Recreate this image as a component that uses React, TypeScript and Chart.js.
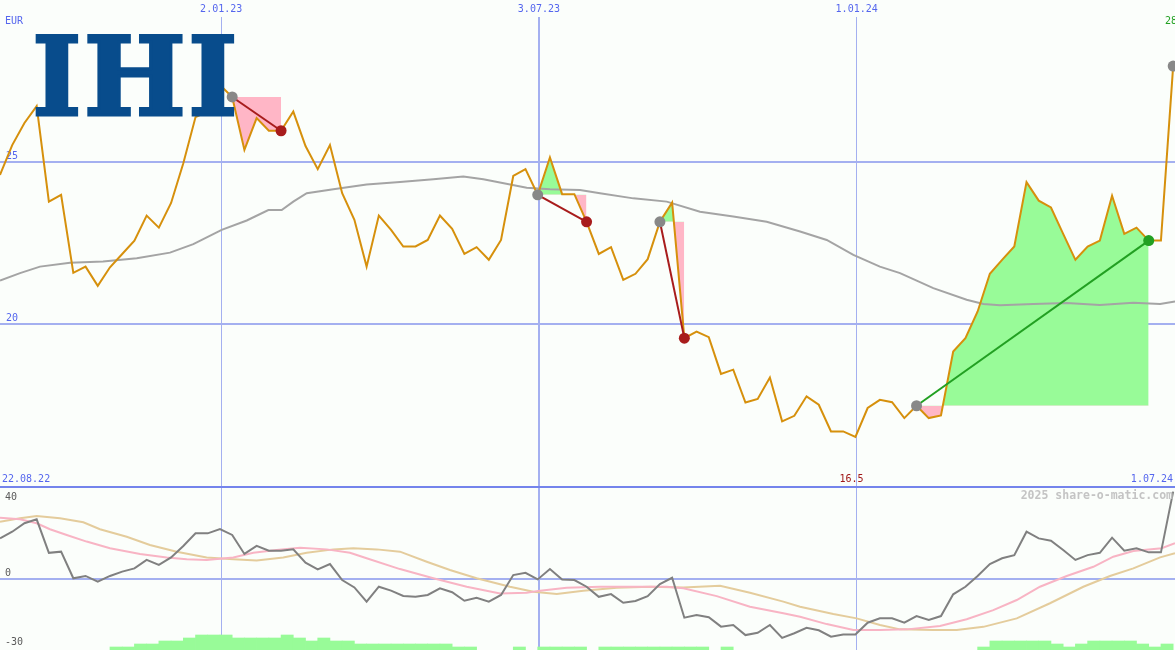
import React, { useEffect, useRef } from "react";
import { Chart, registerables } from "chart.js";
Chart.register(...registerables);

// ---------- data ----------
const dateTicks = [18.1, 44.1, 70.1];
const dateTickLabels = ["2.01.23", "3.07.23", "1.01.24"];
const rangeLabels = ["22.08.22", "1.07.24"];
const priceTicks = [20, 25];
const currencyLabel = "EUR";
const minPriceLabel = "16.5";
const lastPriceLabel = "28";
const osciTicks = [40, 0, -30];
const watermark = "2025 share-o-matic.com";
const logoText = "IHI";

// weekly closing prices (index 0 = 22.08.22)
const prices = [
  24.6, 25.52, 26.2, 26.72, 23.78, 23.99, 21.59, 21.78, 21.19, 21.76,
  22.17, 22.58, 23.35, 22.98, 23.74, 24.96, 26.38, 26.55, 27.37, 27.0,
  25.37, 26.35, 25.96, 25.96, 26.55, 25.49, 24.78, 25.52, 24.04, 23.22,
  21.78, 23.35, 22.91, 22.4, 22.4, 22.6, 23.35, 22.94, 22.17, 22.38,
  21.99, 22.6, 24.57, 24.78, 23.99, 25.14, 24.01, 24.01, 23.16, 22.17,
  22.38, 21.37, 21.56, 22.01, 23.16, 23.75, 19.58, 19.78, 19.61, 18.48,
  18.61, 17.6, 17.71, 18.37, 17.02, 17.19, 17.79, 17.53, 16.71, 16.71,
  16.54, 17.43, 17.68, 17.61, 17.12, 17.5, 17.12, 17.2, 19.17, 19.58,
  20.4, 21.56, 21.99, 22.4, 24.38, 23.81, 23.6, 22.79, 21.99, 22.4,
  22.58, 23.96, 22.79, 22.98, 22.58, 22.58, 27.95,
];

// long moving average (gray)
const maX = [0, 1.64, 3.27, 5.73, 8.43, 11.19, 13.91, 15.82, 18.14, 20.19, 21.96, 23.05, 24.0, 25.1, 27.28, 30.0, 32.73, 35.46, 37.91, 39.55, 43.1, 45.0, 47.46, 49.1, 51.83, 54.56, 57.28, 60.0, 62.74, 65.47, 67.65, 69.83, 72.0, 73.65, 76.37, 79.1, 80.47, 81.83, 84.56, 87.29, 90.0, 92.74, 94.93, 96.15];
const maY = [21.35, 21.58, 21.78, 21.9, 21.94, 22.04, 22.21, 22.47, 22.91, 23.2, 23.52, 23.52, 23.78, 24.04, 24.16, 24.31, 24.38, 24.47, 24.55, 24.47, 24.21, 24.16, 24.14, 24.04, 23.88, 23.78, 23.47, 23.32, 23.16, 22.86, 22.6, 22.14, 21.78, 21.58, 21.12, 20.76, 20.63, 20.59, 20.63, 20.66, 20.6, 20.67, 20.63, 20.71];

// trades (week indices)
const tradeEntries = [19, 44, 54, 75];
const tradeExits = [23, 48, 56, 94];
const openEntries = [96];

// oscillator (lower panel)
const osci = [
  17.6, 20.5, 24.2, 25.9, 11.3, 11.8, 0.2, 1.2, -1.3, 1.2,
  3.1, 4.5, 8.2, 6.0, 9.3, 14.3, 19.8, 19.8, 21.7, 19.1,
  10.8, 14.3, 12.2, 12.2, 12.8, 7.0, 4.1, 6.4, -0.6, -3.8,
  -10.0, -3.5, -5.2, -7.5, -7.9, -7.1, -4.2, -5.9, -9.6, -8.3,
  -10.0, -7.1, 1.6, 2.6, -0.3, 4.2, -0.3, -0.6, -3.5, -7.9,
  -6.7, -10.5, -9.7, -7.6, -2.3, 0.4, -17.0, -15.8, -16.8, -20.9,
  -20.2, -24.6, -23.6, -20.2, -25.8, -23.8, -21.4, -22.5, -25.3, -24.3,
  -24.3, -19.2, -17.3, -17.3, -19.2, -16.3, -18.0, -16.3, -6.8, -3.5,
  1.2, 6.4, 8.9, 10.3, 20.5, 17.6, 16.6, 12.5, 8.2, 10.3,
  11.3, 17.9, 12.2, 13.3, 11.5, 11.5, 38.0,
];
const pinkX = [0, 1.64, 3.0, 4.09, 5.46, 7.09, 9.0, 11.46, 13.64, 15.28, 16.91, 19.09, 20.73, 22.64, 24.55, 26.73, 28.64, 30.0, 32.73, 35.46, 38.19, 40.92, 43.1, 44.19, 46.37, 49.1, 51.83, 54.56, 55.92, 58.65, 61.37, 64.1, 65.47, 67.65, 69.83, 72.01, 74.2, 76.92, 79.1, 81.28, 83.2, 85.1, 87.29, 89.47, 91.1, 92.74, 95.06, 96.15];
const pinkY = [26.6, 25.9, 24.2, 21.6, 19.1, 16.2, 13.3, 10.8, 9.3, 8.5, 8.2, 9.3, 11.3, 12.5, 13.5, 12.8, 11.3, 8.9, 4.2, 0.2, -3.5, -6.4, -6.1, -5.2, -3.9, -3.5, -3.5, -3.5, -4.2, -7.6, -12.2, -15.1, -16.6, -19.8, -22.4, -22.4, -22.1, -20.6, -17.7, -13.7, -9.3, -3.5, 1.2, 5.2, 9.6, 12.1, 13.3, 15.5];
const tanX = [0, 1.64, 3.0, 4.91, 6.82, 8.18, 10.37, 12.27, 14.46, 16.91, 19.09, 21.0, 23.18, 25.1, 27.28, 28.91, 30.83, 32.73, 34.92, 36.82, 39.0, 41.73, 43.64, 45.56, 47.73, 50.47, 53.19, 55.92, 58.92, 61.37, 64.1, 65.47, 68.19, 70.1, 72.01, 73.65, 76.37, 78.29, 80.47, 83.2, 85.92, 88.65, 90.83, 92.74, 94.93, 96.15];
const tanY = [24.9, 26.4, 27.4, 26.4, 24.6, 21.6, 18.3, 14.7, 11.8, 9.3, 8.5, 7.9, 9.3, 11.3, 12.8, 13.3, 12.8, 11.8, 7.4, 3.8, 0.2, -3.5, -5.7, -6.7, -5.2, -3.9, -3.5, -3.8, -3.1, -6.1, -10.0, -12.2, -15.4, -17.3, -20.2, -22.1, -22.4, -22.4, -21.0, -17.3, -10.7, -3.5, 1.2, 4.5, 9.3, 11.1];
// trend strength bars, one per week interval
const trendLevels = [
  0, 0, 0, 0, 0, 0, 0, 0, 0, 1,
  1, 2, 2, 3, 3, 4, 5, 5, 5, 4,
  4, 4, 4, 5, 4, 3, 4, 3, 3, 2,
  2, 2, 2, 2, 2, 2, 2, 1, 1, 0,
  0, 0, 1, 0, 1, 1, 1, 1, 0, 1,
  1, 1, 1, 1, 1, 1, 1, 1, 0, 1,
  0, 0, 0, 0, 0, 0, 0, 0, 0, 0,
  0, 0, 0, 0, 0, 0, 0, 0, 0, 0,
  1, 3, 3, 3, 3, 3, 2, 1, 2, 3,
  3, 3, 3, 2, 1, 2,
];

// ---------- styles ----------
const X_MAX = 96.15;
const BG = "#fbfefb";
const LABEL_BLUE = "#5566ee";
const GRID_BLUE = "#a4b0f0";
const SEP_BLUE = "#7484ec";
const PRICE_COLOR = "#d6900c";
const MA_COLOR = "#a4a4a4";
const GAIN_FILL = "#98fb98";
const LOSS_FILL = "#ffb6c6";
const LOSS_LINE = "#a81c1c";
const GAIN_LINE = "#22a022";
const ENTRY_DOT = "#888888";
const LOGO_BLUE = "#084c8c";
const MONO = "'DejaVu Sans Mono', monospace";

function drawLogo(ctx: CanvasRenderingContext2D) {
  const boxes = [
    [35, 79],
    [86.7, 182.7],
    [191, 235],
  ];
  const top = 35;
  const bottom = 116.8;
  const sw = 3; // stroke thickening in px
  ctx.save();
  ctx.fillStyle = LOGO_BLUE;
  ctx.strokeStyle = LOGO_BLUE;
  ctx.font = "bold 100px 'DejaVu Serif', serif";
  ctx.textAlign = "left";
  ctx.textBaseline = "alphabetic";
  ctx.lineJoin = "miter";
  logoText.split("").forEach((ch, k) => {
    const m = ctx.measureText(ch);
    const gw = m.actualBoundingBoxRight + m.actualBoundingBoxLeft;
    const gh = m.actualBoundingBoxAscent + m.actualBoundingBoxDescent;
    const [x0, x1] = boxes[k];
    const sx = (x1 - x0 - sw) / gw;
    const sy = (bottom - top - sw) / gh;
    ctx.save();
    ctx.translate(x0 + sw / 2, top + sw / 2);
    ctx.scale(sx, sy);
    ctx.lineWidth = sw / sx;
    ctx.fillText(ch, m.actualBoundingBoxLeft, m.actualBoundingBoxAscent);
    ctx.strokeText(ch, m.actualBoundingBoxLeft, m.actualBoundingBoxAscent);
    ctx.restore();
  });
  ctx.restore();
}

const topDecor = {
  id: "topDecor",
  afterDraw(chart: any) {
    const { ctx } = chart;
    const xs = chart.scales.x;
    ctx.save();
    ctx.font = `10px ${MONO}`;
    ctx.textBaseline = "middle";
    ctx.fillStyle = LABEL_BLUE;
    ctx.textAlign = "left";
    ctx.fillText(currencyLabel, 5, 21);
    ctx.fillText(rangeLabels[0], 2, 479);
    ctx.textAlign = "right";
    ctx.fillText(rangeLabels[1], 1173, 479);
    const minIdx = prices.indexOf(Math.min(...prices));
    ctx.fillStyle = "#a01818";
    ctx.textAlign = "center";
    ctx.fillText(minPriceLabel, xs.getPixelForValue(minIdx) - 4, 479);
    ctx.fillStyle = GAIN_LINE;
    ctx.textAlign = "left";
    ctx.fillText(lastPriceLabel, 1165, 21);
    ctx.restore();
    drawLogo(ctx);
  },
};

const bottomDecor = {
  id: "bottomDecor",
  afterDraw(chart: any) {
    const { ctx } = chart;
    const ys = chart.scales.y;
    ctx.save();
    ctx.strokeStyle = SEP_BLUE;
    ctx.lineWidth = 2;
    ctx.beginPath();
    ctx.moveTo(0, 1);
    ctx.lineTo(chart.width, 1);
    ctx.stroke();
    ctx.font = `10px ${MONO}`;
    ctx.fillStyle = "#5a5a5a";
    ctx.textAlign = "left";
    ctx.textBaseline = "alphabetic";
    osciTicks.forEach((v, k) => {
      const py = ys.getPixelForValue(v);
      ctx.fillText(String(v), 5, k === 0 ? py + 13 : py - 2.5);
    });
    ctx.font = `bold 11.5px ${MONO}`;
    ctx.fillStyle = "#c4c4c4";
    ctx.textAlign = "right";
    ctx.textBaseline = "middle";
    ctx.fillText(watermark, 1173, 10);
    ctx.restore();
  },
};

const zeroPad = (s: any) => {
  s.paddingLeft = 0;
  s.paddingRight = 0;
  s.paddingTop = 0;
  s.paddingBottom = 0;
};

const xGrid = {
  color: GRID_BLUE,
  lineWidth: (c: any) => (c.tick && c.tick.value === dateTicks[1] ? 2 : 1),
  drawTicks: false,
  offset: false,
};

export default function App() {
  const topRef = useRef<HTMLCanvasElement>(null);
  const botRef = useRef<HTMLCanvasElement>(null);

  useEffect(() => {
    const pricePts = prices.map((v, i) => ({ x: i, y: v }));
    const datasets: any[] = [];

    // trade fills
    tradeEntries.forEach((e, k) => {
      const x = tradeExits[k];
      datasets.push({
        type: "line",
        data: pricePts.slice(e, x + 1),
        borderWidth: 0,
        borderColor: "rgba(0,0,0,0)",
        pointRadius: 0,
        fill: { target: { value: prices[e] }, above: GAIN_FILL, below: LOSS_FILL },
        order: 10,
      });
    });
    datasets.push({
      type: "line",
      data: maX.map((x, i) => ({ x, y: maY[i] })),
      borderColor: MA_COLOR,
      borderWidth: 2,
      pointRadius: 0,
      fill: false,
      order: 8,
    });
    datasets.push({
      type: "line",
      data: pricePts,
      borderColor: PRICE_COLOR,
      borderWidth: 2,
      pointRadius: 0,
      fill: false,
      order: 5,
    });
    tradeEntries.forEach((e, k) => {
      const x = tradeExits[k];
      const gain = prices[x] >= prices[e];
      datasets.push({
        type: "line",
        data: [
          { x: e, y: prices[e] },
          { x, y: prices[x] },
        ],
        borderColor: gain ? GAIN_LINE : LOSS_LINE,
        borderWidth: 2,
        pointRadius: 0,
        fill: false,
        order: 3,
      });
    });
    const dotPts: any[] = [];
    const dotCols: string[] = [];
    tradeEntries.forEach((e, k) => {
      const x = tradeExits[k];
      dotPts.push({ x: e, y: prices[e] });
      dotCols.push(ENTRY_DOT);
      dotPts.push({ x, y: prices[x] });
      dotCols.push(prices[x] >= prices[e] ? GAIN_LINE : LOSS_LINE);
    });
    openEntries.forEach((e) => {
      dotPts.push({ x: e, y: prices[e] });
      dotCols.push(ENTRY_DOT);
    });
    datasets.push({
      type: "line",
      data: dotPts,
      showLine: false,
      pointRadius: 5.5,
      pointBorderWidth: 0,
      pointBackgroundColor: dotCols,
      pointBorderColor: dotCols,
      fill: false,
      order: 1,
    });

    const top = new Chart(topRef.current!, {
      type: "line",
      data: { datasets },
      options: {
        responsive: false,
        animation: false,
        events: [],
        layout: { padding: 0, autoPadding: false },
        plugins: { legend: { display: false }, tooltip: { enabled: false } },
        scales: {
          x: {
            type: "linear",
            position: "top",
            min: 0,
            max: X_MAX,
            offset: false,
            afterBuildTicks: (s: any) => {
              s.ticks = dateTicks.map((v) => ({ value: v }));
            },
            afterFit: (s: any) => {
              s.height = 17;
              zeroPad(s);
            },
            ticks: {
              autoSkip: false,
              maxRotation: 0,
              padding: 2,
              color: LABEL_BLUE,
              font: { family: MONO, size: 10 },
              callback: (v: any) => dateTickLabels[dateTicks.indexOf(Number(v))] ?? "",
            },
            grid: xGrid,
            border: { display: false },
          },
          y: {
            type: "linear",
            position: "left",
            min: 15,
            max: 29.46,
            afterBuildTicks: (s: any) => {
              s.ticks = priceTicks.map((v) => ({ value: v }));
            },
            afterFit: (s: any) => {
              s.width = 0;
              zeroPad(s);
            },
            ticks: {
              mirror: true,
              padding: 6,
              labelOffset: -6,
              color: LABEL_BLUE,
              font: { family: MONO, size: 10 },
            },
            grid: { color: GRID_BLUE, lineWidth: 2, drawTicks: false },
            border: { display: false },
          },
        },
      } as any,
      plugins: [topDecor],
    });

    const bot = new Chart(botRef.current!, {
      type: "line",
      data: {
        datasets: [
          {
            type: "bar",
            yAxisID: "y2",
            data: trendLevels
              .map((v, i) => ({ x: i + 0.5, y: v }))
              .filter((p) => p.y > 0),
            backgroundColor: GAIN_FILL,
            borderWidth: 0,
            barPercentage: 1,
            categoryPercentage: 1,
            order: 10,
          },
          {
            type: "line",
            data: tanX.map((x, i) => ({ x, y: tanY[i] })),
            borderColor: "#e4cc9c",
            borderWidth: 2,
            pointRadius: 0,
            fill: false,
            order: 4,
          },
          {
            type: "line",
            data: pinkX.map((x, i) => ({ x, y: pinkY[i] })),
            borderColor: "#f8b4c4",
            borderWidth: 2,
            pointRadius: 0,
            fill: false,
            order: 3,
          },
          {
            type: "line",
            data: osci.map((v, i) => ({ x: i, y: v })),
            borderColor: "#808080",
            borderWidth: 2,
            pointRadius: 0,
            fill: false,
            order: 1,
          },
        ] as any,
      },
      options: {
        responsive: false,
        animation: false,
        events: [],
        layout: { padding: 0, autoPadding: false },
        plugins: { legend: { display: false }, tooltip: { enabled: false } },
        scales: {
          x: {
            type: "linear",
            position: "bottom",
            min: 0,
            max: X_MAX,
            offset: false,
            afterBuildTicks: (s: any) => {
              s.ticks = dateTicks.map((v) => ({ value: v }));
            },
            afterFit: (s: any) => {
              s.height = 0;
              zeroPad(s);
            },
            ticks: { display: false },
            grid: xGrid,
            border: { display: false },
          },
          y: {
            type: "linear",
            position: "left",
            min: -31.1,
            max: 40.45,
            afterBuildTicks: (s: any) => {
              s.ticks = [{ value: 0 }];
            },
            afterFit: (s: any) => {
              s.width = 0;
              zeroPad(s);
            },
            ticks: { display: false },
            grid: { color: GRID_BLUE, lineWidth: 2, drawTicks: false },
            border: { display: false },
          },
          y2: { type: "linear", display: false, min: 0, max: 54.67 },
        },
      } as any,
      plugins: [bottomDecor],
    });

    return () => {
      top.destroy();
      bot.destroy();
    };
  }, []);

  return (
    <div
      style={{
        position: "fixed",
        left: 0,
        top: 0,
        width: 1175,
        height: 650,
        background: BG,
        overflow: "hidden",
      }}
    >
      <canvas
        ref={topRef}
        width={1175}
        height={487}
        style={{ position: "absolute", left: 0, top: 0, width: 1175, height: 487 }}
      />
      <canvas
        ref={botRef}
        width={1175}
        height={164}
        style={{ position: "absolute", left: 0, top: 486, width: 1175, height: 164 }}
      />
    </div>
  );
}
